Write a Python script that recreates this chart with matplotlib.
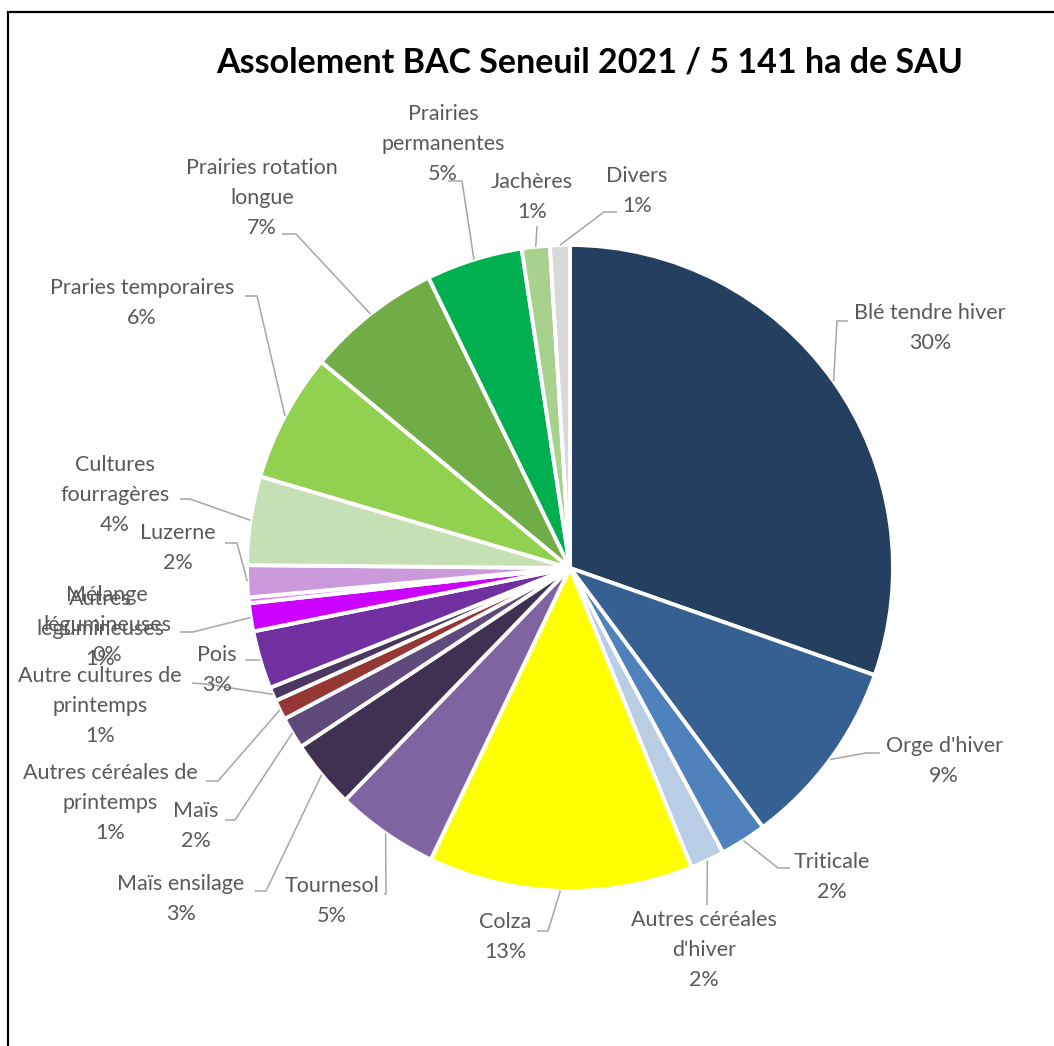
import matplotlib
matplotlib.use("Agg")
import matplotlib.pyplot as plt
import numpy as np
from matplotlib.patches import Rectangle

# ---------------- data ----------------
categories = [
    "Blé tendre hiver", "Orge d'hiver", "Triticale", "Autres céréales\nd'hiver",
    "Colza", "Tournesol", "Maïs ensilage", "Maïs",
    "Autres céréales de\nprintemps", "Autre cultures de\nprintemps", "Pois",
    "Autres\nlégumineuses", "Mélange\nlégumineuses", "Luzerne",
    "Cultures\nfourragères", "Praries temporaires", "Prairies rotation\nlongue",
    "Prairies\npermanentes", "Jachères", "Divers",
]
surfaces_ha = [1562, 485, 120, 88, 680, 265, 176, 82, 51, 36, 149, 72, 15, 82,
               228, 331, 348, 248, 72, 51]
colors = [
    "#243F60", "#366092", "#4F81BD", "#B9CDE5", "#FFFF00", "#8064A2", "#403152",
    "#604A7B", "#953735", "#4A3860", "#7030A0", "#CC00FF", "#E27BFF", "#CC99DD",
    "#C5E0B4", "#92D050", "#70AD47", "#00B050", "#A9D18E", "#D9D9D9",
]
title = "Assolement BAC Seneuil 2021 / 5 141 ha de SAU"

# ---------------- layout (pixels) ----------------
W, H = 1054, 1046
CX, CY, R = 570, 568, 323
label_pos = [
    (930, 328), (944, 761), (832, 877), (704, 950), (505, 937), (332, 901),
    (181, 899), (196, 826), (110, 803), (100, 706), (217, 670), (100, 629),
    (107, 625), (178, 548), (115, 495), (142, 303), (262, 198), (443, 144),
    (532, 197), (637, 191),
]
leader_pts = [
    [(837, 321), (848, 321)],
    [(866, 753), (880, 753)],
    [(778, 868), (790, 868)],
    [(707, 905)],
    [(548, 931), (537, 931)],
    [(386, 894), (384, 894)],
    [(266, 891), (255, 891)],
    [(235, 820), (225, 820)],
    [(218, 781), (206, 781)],
    [(205, 684), (192, 683)],
    [(245, 660)],
    [(193, 632), (180, 632)],
    None,
    [(237, 543), (225, 543)],
    [(190, 499), (180, 499)],
    [(257, 296), (245, 296)],
    [(296, 234), (282, 234)],
    [(462, 181), (448, 181)],
    [(537, 226)],
    [(604, 212), (617, 212)],
]

def px2d(p):
    return ((p[0] - CX) / R, (CY - p[1]) / R)

plt.rcParams['font.family'] = ['Lato', 'DejaVu Sans']
fig = plt.figure(figsize=(W / 100, H / 100), dpi=100)
ax = fig.add_axes([0, 0, 1, 1])

wedges, _ = ax.pie(surfaces_ha, colors=colors, startangle=90, counterclock=False,
                   radius=1.0, wedgeprops=dict(edgecolor="white", linewidth=2.8))
ax.set_xlim(-CX / R, (W - CX) / R)
ax.set_ylim((CY - H) / R, CY / R)
ax.set_aspect('auto')
ax.axis('off')

total = sum(surfaces_ha)
for w, name, val, pos, pts in zip(wedges, categories, surfaces_ha, label_pos, leader_pts):
    pct = round(100 * val / total)
    tx, ty = px2d(pos)
    ax.text(tx, ty, f"{name}\n{pct}%", ha="center", va="center",
            multialignment="center", fontsize=15.5, color="#595959",
            linespacing=1.6, zorder=5)
    if pts is not None:
        mid = np.deg2rad((w.theta1 + w.theta2) / 2)
        anchor = (np.cos(mid) * w.r, np.sin(mid) * w.r)
        path = [anchor] + [px2d(p) for p in pts]
        xs, ys = zip(*path)
        ax.plot(xs, ys, color="#A6A6A6", lw=1.1, zorder=4, solid_capstyle="butt")

fig.text(590 / W, 1 - 62 / H, title, ha="center", va="center",
         fontsize=24.5, fontweight="bold", color="black")

fig.patches.append(Rectangle((8 / W, -0.1), 1.2, 1 - 12 / H + 0.1,
                             transform=fig.transFigure, fill=False,
                             edgecolor="black", linewidth=1.6))

fig.savefig("out.png", dpi=100, facecolor="white")
